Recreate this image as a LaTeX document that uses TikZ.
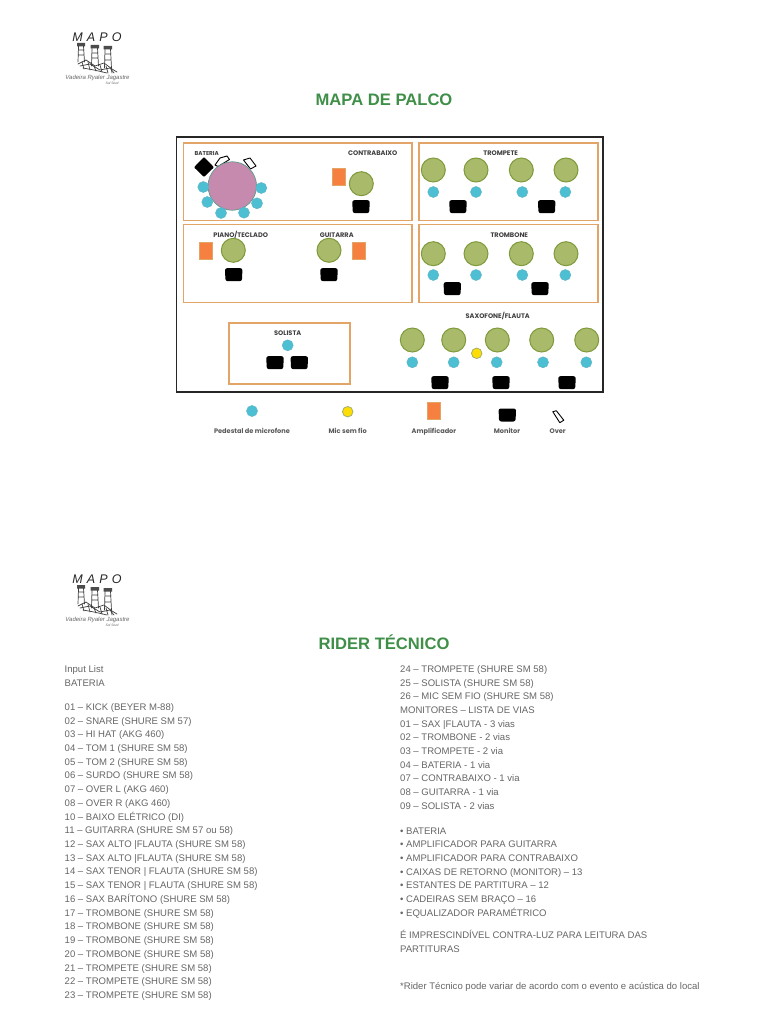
\documentclass[tikz,border=0pt]{standalone}
\usepackage{fontspec}
\setmainfont{Liberation Sans}
\newfontfamily\labelfont{Poppins}
\definecolor{titlegreen}{HTML}{3F8F48}
\definecolor{boxorange}{HTML}{E3A468}
\definecolor{ampfill}{HTML}{F58040}
\definecolor{personfill}{HTML}{A9BA6A}
\definecolor{personline}{HTML}{7F9A3A}
\definecolor{micfill}{HTML}{4DBFD2}
\definecolor{micline}{HTML}{5FB5C8}
\definecolor{drumfill}{HTML}{C68AAE}
\definecolor{drumline}{HTML}{5C9A8C}
\definecolor{bodygray}{HTML}{666666}
\tikzset{
  x=1pt,y=-1pt,
  area/.style={draw=boxorange,line width=1.8pt},
  person/.style={circle,draw=personline,fill=personfill,line width=1pt,minimum size=24pt,inner sep=0pt},
  mic/.style={circle,draw=micline,fill=micfill,line width=.5pt,minimum size=11pt,inner sep=0pt},
  wireless/.style={circle,draw=personfill!80!gray,fill=yellow!80!orange,line width=.8pt,minimum size=10.5pt,inner sep=0pt},
  amp/.style={rectangle,draw=boxorange,fill=ampfill,line width=.5pt,minimum width=13pt,minimum height=17pt,inner sep=0pt},
  stage/.style={font=\labelfont\fontsize{6.6}{8}\selectfont\bfseries,text=black!75,inner sep=0pt,anchor=base,yshift=-2.4pt},
  legend/.style={font=\labelfont\fontsize{6.6}{8}\selectfont\bfseries,text=black!65,inner sep=0pt,anchor=base,yshift=-2.4pt},
  title/.style={font=\fontsize{16.6}{18}\selectfont\bfseries,text=titlegreen,inner sep=0pt},
  body/.style={font=\fontsize{9.55}{12}\selectfont,text=bodygray,anchor=base west,inner sep=0pt},
  pics/monitor/.style={code={
    \fill[black,rounded corners=2.2pt] (-8.8,-6.5) -- (8.8,-6.5) -- (8.2,6.5) -- (-8.2,6.5) -- cycle;
  }},
  pics/over/.style={code={
    \draw[black,fill=white,line width=.9pt,line join=round] (-5.5,-5) -- (-2,-6) -- (5.5,3.5) -- (1.5,6) -- cycle;
  }},
  pics/logo/.style={code={
    \node[font=\fontsize{12.5}{13}\selectfont\itshape,text=black!85,inner sep=0pt] (#1mapo) at (97,37) {M\,\,A\,\,P\,\,O};
    \node[font=\fontsize{6}{7}\selectfont\itshape,text=black!60,inner sep=0pt] (#1cap) at (97.5,77.5) {Vadeira Ryaler Jagastre};
    \node[font=\fontsize{3.4}{4}\selectfont\itshape,text=black!60,inner sep=0pt] (#1sub) at (112,83) {Sul Stud};
    \begin{scope}[black!75,line width=.7pt,line cap=round]
      % towers
      \fill[black!70] (77,43) rectangle (85,46.5) (90.5,45) rectangle (99,48.5) (103.5,46) rectangle (112,49.5);
      \draw (78.5,46) -- (78,62) (83.5,46) -- (84.5,62) (79,50) -- (84,50) (79,55) -- (84,55);
      \draw (92,48) -- (91.5,66) (97.5,48) -- (98.5,66) (92,53) -- (98,53) (92,58) -- (98,58);
      \draw (105,49) -- (104.5,68) (110.5,49) -- (111.5,68) (105,54) -- (111,54) (105,60) -- (111,60);
      % ground
      \draw (78,64) -- (86,60) -- (95,66) -- (104,63) -- (112,69) -- (117,72);
      \draw (80,66) -- (90,64) -- (100,70) -- (110,68) -- (114,73);
      \draw (83,68) -- (94,70) -- (107,73);
      \draw (82,62) -- (84,69) (88,62) -- (90,70) (94,66) -- (96,71) (100,65) -- (102,72) (106,66) -- (108,73) (111,67) -- (112,73);
    \end{scope}
  }}
}
\begin{document}
\begin{tikzpicture}
\useasboundingbox (0,0) rectangle (768,1024);
\fill[white] (0,0) rectangle (768,1024);

% logos
\pic {logo=a};
\begin{scope}[yshift=-542pt]
  \pic {logo=b};
\end{scope}

% titles
\node[title] (t1) at (384,99.3) {MAPA DE PALCO};
\node[title] (t2) at (384,642) {RIDER TÉCNICO};

% frame and areas
\draw[black!85,line width=1.8pt] (176.5,137) rectangle (603,392);
\draw[area] (183.5,143) rectangle (412,220.5);
\draw[area] (183.5,224.5) rectangle (412,302.5);
\draw[area] (418.8,143) rectangle (598,220.5);
\draw[area] (418.8,224.5) rectangle (598,302.5);
\draw[area] (229,322.7) rectangle (350,384);

% stage labels
\node[stage,font=\labelfont\fontsize{5.7}{7}\selectfont\bfseries] (lbat) at (206.7,153.5) {BATERIA};
\node[stage] (lcon) at (372.7,153.5) {CONTRABAIXO};
\node[stage] (lpia) at (240.7,235.5) {PIANO/TECLADO};
\node[stage] (lgui) at (336.7,235.5) {GUITARRA};
\node[stage] (ltro) at (500.7,153.5) {TROMPETE};
\node[stage] (ltrb) at (509.3,235.5) {TROMBONE};
\node[stage] (lsax) at (497.7,315.7) {SAXOFONE/FLAUTA};
\node[stage] (lsol) at (287.7,332.7) {SOLISTA};

% drums
\fill[black,rounded corners=1pt] (204,157) -- (214,167.3) -- (204,177) -- (194,167.3) -- cycle;
\draw[black,fill=white,line width=.9pt,line join=round] (215,165) -- (220,158) -- (227,156) -- (229.5,159.5) -- (218,166.5) -- cycle;
\draw[black,fill=white,line width=.9pt,line join=round] (243.5,160) -- (250,158) -- (256,166) -- (250.5,169) -- cycle;
\node[circle,draw=drumline,fill=drumfill,line width=.7pt,minimum size=48.5pt,inner sep=0pt] (drum) at (232.3,186) {};
\foreach \n/\x/\y in {1/203.3/187,2/207.3/202,3/221/213,4/244/212.7,5/257/203.3,6/261.3/188}
  \node[mic] (dm\n) at (\x,\y) {};

% contrabaixo
\node[amp] (acon) at (338.8,176.3) {};
\node[person] (pcon) at (361.3,183.7) {};
\pic at (361,206.7) {monitor};
% piano
\node[amp] (apia) at (205.5,250.8) {};
\node[person] (ppia) at (233.3,250.3) {};
\pic at (233.7,274.7) {monitor};
% guitarra
\node[amp] (agui) at (358.7,250.8) {};
\node[person] (pgui) at (329,250.3) {};
\pic at (329,274.7) {monitor};

% trompete
\foreach \n/\p/\m in {1/433.3/433.3,2/476/476,3/521.3/522.3,4/566/565.3}{
  \node[person] (ptr\n) at (\p,170) {};
  \node[mic] (mtr\n) at (\m,192) {};
}
\pic at (458,206.7) {monitor};
\pic at (546.7,206.7) {monitor};
% trombone
\foreach \n/\p/\m in {1/433.3/433.3,2/476/476,3/521.3/522.3,4/566/565.3}{
  \node[person] (ptb\n) at (\p,253.7) {};
  \node[mic] (mtb\n) at (\m,275) {};
}
\pic at (452.3,288.7) {monitor};
\pic at (540,288.7) {monitor};
% saxofone
\foreach \n/\p/\m in {1/412.3/412.3,2/453.7/453.7,3/497.3/496.7,4/541.7/543,5/586.7/586.3}{
  \node[person] (psx\n) at (\p,340) {};
  \node[mic] (msx\n) at (\m,362.3) {};
}
\node[wireless] (wsx) at (476.7,353.3) {};
\pic at (440,382.7) {monitor};
\pic at (501,382.7) {monitor};
\pic at (567,382.7) {monitor};
% solista
\node[mic] (msol) at (287.7,345.3) {};
\pic at (275,362.7) {monitor};
\pic at (299.3,362.7) {monitor};

% legend
\node[mic] (lgm) at (252,411) {};
\node[wireless] (lgw) at (347.7,411.7) {};
\node[amp] (lga) at (434.2,410.8) {};
\pic at (507.3,415) {monitor};
\pic at (558.3,416.7) {over};
\node[legend] (lt1) at (252,431) {Pedestal de microfone};
\node[legend] (lt2) at (347.7,431) {Mic sem fio};
\node[legend] (lt3) at (434,431) {Amplificador};
\node[legend] (lt4) at (507,431) {Monitor};
\node[legend] (lt5) at (557.7,431) {Over};

% left column
\foreach \i/\y/\t in {
 1/669/{Input List},2/682.5/{BATERIA},
 3/706.8/{01 – KICK (BEYER M-88)},4/720.5/{02 – SNARE (SHURE SM 57)},5/734.2/{03 – HI HAT (AKG 460)},
 6/747.8/{04 – TOM 1 (SHURE SM 58)},7/761.5/{05 – TOM 2 (SHURE SM 58)},8/775.2/{06 – SURDO (SHURE SM 58)},
 9/789/{07 – OVER L (AKG 460)},10/803/{08 – OVER R (AKG 460)},11/816.5/{10 – BAIXO ELÉTRICO (DI)},
 12/830/{11 – GUITARRA (SHURE SM 57 ou 58)},13/844/{12 – SAX ALTO |FLAUTA (SHURE SM 58)},14/858/{13 – SAX ALTO |FLAUTA (SHURE SM 58)},
 15/871/{14 – SAX TENOR | FLAUTA (SHURE SM 58)},16/885/{15 – SAX TENOR | FLAUTA (SHURE SM 58)},17/898.5/{16 – SAX BARÍTONO (SHURE SM 58)},
 18/912.5/{17 – TROMBONE (SHURE SM 58)},19/926/{18 – TROMBONE (SHURE SM 58)},20/940/{19 – TROMBONE (SHURE SM 58)},
 21/954/{20 – TROMBONE (SHURE SM 58)},22/967.5/{21 – TROMPETE (SHURE SM 58)},23/981/{22 – TROMPETE (SHURE SM 58)},24/995/{23 – TROMPETE (SHURE SM 58)}}
  \node[body,yshift=-3.5pt] (lc\i) at (64.5,\y) {\t};

% right column
\foreach \i/\y/\t in {
 1/669/{24 – TROMPETE (SHURE SM 58)},2/682.5/{25 – SOLISTA (SHURE SM 58)},3/696/{26 – MIC SEM FIO (SHURE SM 58)},
 4/710/{MONITORES – LISTA DE VIAS},5/723.5/{01 – SAX |FLAUTA - 3 vias},6/737/{02 – TROMBONE - 2 vias},
 7/751/{03 – TROMPETE - 2 via},8/764.5/{04 – BATERIA - 1 via},9/778.3/{07 – CONTRABAIXO - 1 via},
 10/792/{08 – GUITARRA - 1 via},11/805.5/{09 – SOLISTA - 2 vias},
 12/830.5/{• BATERIA},13/844/{• AMPLIFICADOR PARA GUITARRA},14/858/{• AMPLIFICADOR PARA CONTRABAIXO},
 15/871.5/{• CAIXAS DE RETORNO (MONITOR) – 13},16/885/{• ESTANTES DE PARTITURA – 12},17/899/{• CADEIRAS SEM BRAÇO – 16},
 18/912.5/{• EQUALIZADOR PARAMÉTRICO},
 19/934.5/{É IMPRESCINDÍVEL CONTRA-LUZ PARA LEITURA DAS},20/948.5/{PARTITURAS},
 21/985.5/{*Rider Técnico pode variar de acordo com o evento e acústica do local}}
  \node[body,yshift=-3.5pt] (rc\i) at (400,\y) {\t};
\end{tikzpicture}
\end{document}
